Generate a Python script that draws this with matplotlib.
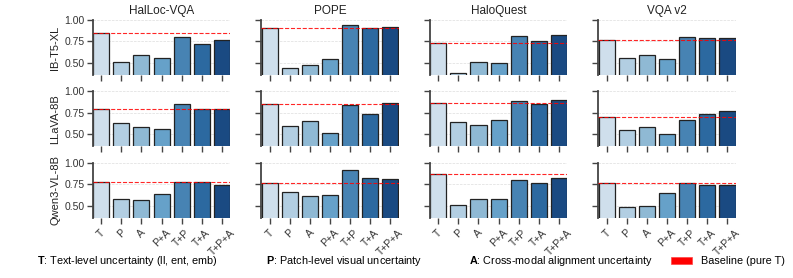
import matplotlib
matplotlib.use("Agg")
import matplotlib.pyplot as plt
from matplotlib.patches import Patch

plt.rcParams['font.family'] = ['Liberation Sans', 'DejaVu Sans']
plt.rcParams['mathtext.fontset'] = 'custom'
plt.rcParams['mathtext.bf'] = 'Liberation Sans:bold'
plt.rcParams['mathtext.rm'] = 'Liberation Sans'

# data
datasets = ['HalLoc-VQA', 'POPE', 'HaloQuest', 'VQA v2']
models = ['IB-T5-XL', 'LLaVA-8B', 'Qwen3-VL-8B']
combos = ['T', 'P', 'A', 'P+A', 'T+P', 'T+A', 'T+P+A']

ib_t5 = [
    [0.846, 0.512, 0.593, 0.558, 0.800, 0.723, 0.762],
    [0.912, 0.443, 0.480, 0.550, 0.942, 0.908, 0.919],
    [0.731, 0.388, 0.512, 0.496, 0.811, 0.754, 0.827],
    [0.765, 0.558, 0.593, 0.542, 0.800, 0.792, 0.785],
]
llava = [
    [0.792, 0.635, 0.588, 0.569, 0.858, 0.796, 0.796],
    [0.854, 0.596, 0.658, 0.515, 0.842, 0.735, 0.862],
    [0.865, 0.642, 0.612, 0.673, 0.888, 0.854, 0.904],
    [0.704, 0.546, 0.588, 0.508, 0.670, 0.735, 0.769],
]
qwen = [
    [0.777, 0.585, 0.573, 0.642, 0.773, 0.773, 0.742],
    [0.765, 0.662, 0.612, 0.623, 0.919, 0.827, 0.808],
    [0.877, 0.515, 0.577, 0.585, 0.804, 0.769, 0.827],
    [0.765, 0.492, 0.500, 0.650, 0.769, 0.738, 0.738],
]
scores = [ib_t5, llava, qwen]

bar_colors = ['#cfdfec', '#b2cee2', '#8fb9d4', '#66a1c9', '#4783b3', '#2c69a0', '#1a4a82']

legend_labels = [
    r'$\mathbf{T}$: Text-level uncertainty (ll, ent, emb)',
    r'$\mathbf{P}$: Patch-level visual uncertainty',
    r'$\mathbf{A}$: Cross-modal alignment uncertainty',
    'Baseline (pure T)',
]

fig, axes = plt.subplots(3, 4, figsize=(7.93, 2.78), dpi=100, sharey=True)
fig.subplots_adjust(left=0.117, right=0.928, top=0.928, bottom=0.216,
                    wspace=0.225, hspace=0.30)

x = list(range(len(combos)))
for r, model in enumerate(models):
    for c, ds in enumerate(datasets):
        ax = axes[r, c]
        vals = scores[r][c]
        ax.bar(x, vals, width=0.8, color=bar_colors, edgecolor='#222222',
               linewidth=0.9, zorder=2)
        ax.axhline(vals[0], color='red', linestyle='--', linewidth=0.8,
                   alpha=0.85, zorder=3)
        ax.set_ylim(0.36, 1.0)
        ax.set_xlim(-0.42, 6.42)
        ax.set_yticks([0.5, 0.75, 1.0])
        ax.set_xticks(x)
        ax.grid(axis='y', color='#dddddd', linestyle='--', linewidth=0.5, zorder=0)
        for s in ['top', 'right', 'bottom']:
            ax.spines[s].set_visible(False)
        ax.spines['left'].set_color('#444444')
        ax.spines['left'].set_linewidth(1.3)
        ax.tick_params(axis='both', length=4, width=1.0, color='#444444',
                       labelsize=7.5, labelcolor='#333333', pad=2)
        ax.tick_params(axis='x', pad=3)
        if r == 0:
            ax.set_title(ds, fontsize=8.5, color='#222222', pad=4)
        if c == 0:
            ax.set_ylabel(model, fontsize=8, color='#222222', labelpad=3)
            ax.set_yticklabels(['0.50', '0.75', '1.00'])
        if r == 2:
            ax.set_xticklabels(combos, rotation=45, ha='center')
        else:
            ax.set_xticklabels([])

handles = [Patch(facecolor='none', edgecolor='none') for _ in range(3)]
handles.append(Patch(facecolor='red', edgecolor='#ff4444', linewidth=0.5))
fig.legend(handles, legend_labels, loc='lower center', ncol=4,
           bbox_to_anchor=(0.499, 0.0), frameon=False, fontsize=7.8,
           handlelength=2.0, handletextpad=0.8, columnspacing=1.6)

fig.savefig('out.png', dpi=100)
